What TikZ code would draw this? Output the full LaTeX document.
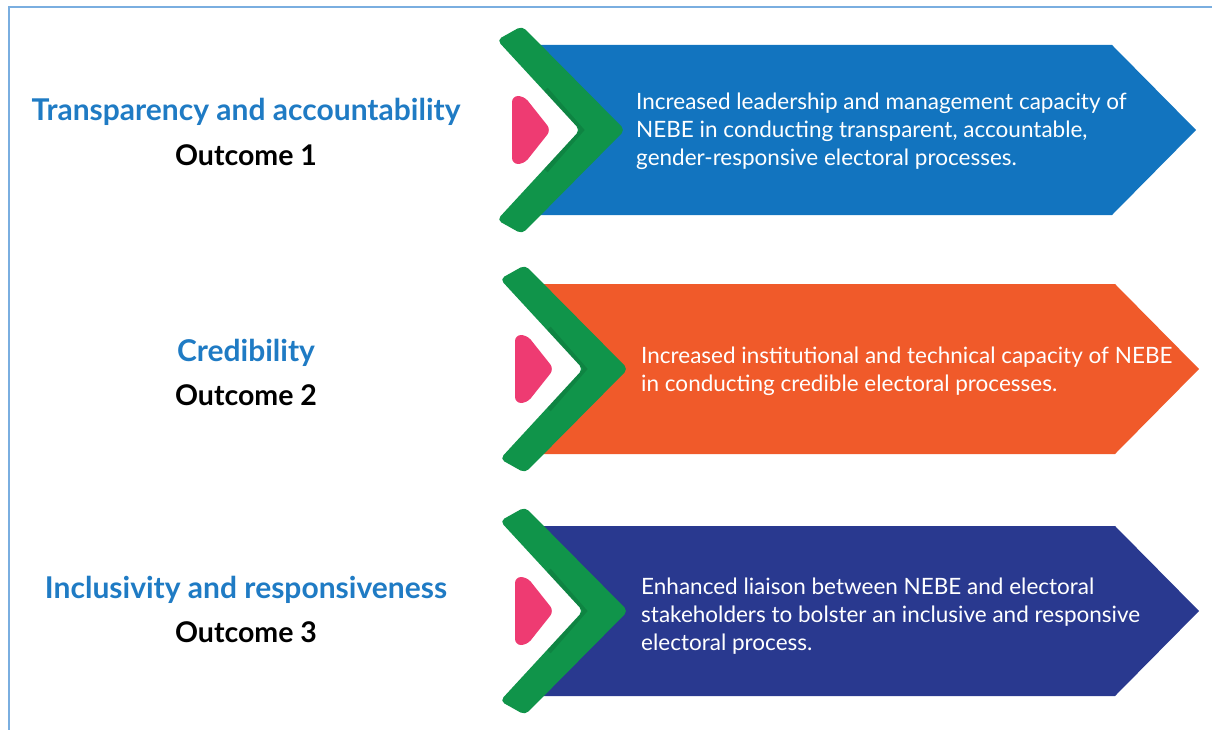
\documentclass[tikz,border=0pt]{standalone}
\usepackage{fontspec}
\setmainfont{Lato}
\definecolor{frameblue}{HTML}{7AAEE0}
\definecolor{headblue}{HTML}{1F7BC4}
\definecolor{cgreen}{HTML}{10944A}
\definecolor{cpink}{HTML}{EE3B72}
\definecolor{cblue}{HTML}{1274BF}
\definecolor{corange}{HTML}{F05A2A}
\definecolor{cnavy}{HTML}{29398F}
\tikzset{
  heading/.style={font=\fontsize{30}{34}\selectfont\bfseries, text=headblue, inner sep=0pt, anchor=center},
  outcome/.style={font=\fontsize{28.5}{32}\selectfont\bfseries, text=black, inner sep=0pt, anchor=center},
  body/.style={font=\fontsize{22.5}{28}\selectfont, text=white, inner sep=0pt, anchor=west, align=left},
  chev/.style={fill=cgreen, rounded corners=5pt},
  marker/.style={fill=cpink, rounded corners=6pt},
}
\newcommand{\outcomeblock}[4]{%
  % #1 name, #2 x shift, #3 centre y, #4 colour
  \begin{scope}[shift={(#2,#3)}]
    \fill[#4] (520,-85) -- (1112,-85) -- (1196,0) -- (1112,85) -- (520,85) -- (600,0) -- cycle;
    \path[chev] (497,-90) -- (522,-104) -- (625,0) -- (522,104) -- (497,90) -- (580,0) -- cycle;
    \begin{scope}
      \clip (497,-90) -- (522,-104) -- (625,0) -- (522,104) -- (497,90) -- (580,0) -- cycle;
      \draw[black, opacity=0.10, line width=7pt] (545,-40) -- (580,0) -- (545,40);
    \end{scope}
    \path[marker] (512,-34) -- (524,-34) -- (551,0) -- (524,34) -- (512,34) -- cycle;
    \coordinate (#1) at (636,0);
  \end{scope}}
\begin{document}
\begin{tikzpicture}[x=1pt,y=-1pt]
\useasboundingbox (0,0) rectangle (1212,730);
\draw[frameblue, line width=2pt] (9,730) -- (9,7) -- (1212,7);

\outcomeblock{b1}{0}{130}{cblue}
\outcomeblock{b2}{3}{369}{corange}
\outcomeblock{b3}{3}{611}{cnavy}

\node[body] (t1) at ([yshift=-1pt]b1) {Increased leadership and management capacity of\\NEBE in conducting transparent, accountable,\\gender-responsive electoral processes.};
\node[body] (t2) at ([xshift=2pt,yshift=-2pt]b2) {Increased institutional and technical capacity of NEBE\\in conducting credible electoral processes.};
\node[body] (t3) at ([xshift=2pt,yshift=-5pt]b3) {Enhanced liaison between NEBE and electoral\\stakeholders to bolster an inclusive and responsive\\electoral process.};

\node[heading] (h1) at (246,112) {Transparency and accountability};
\node[outcome] (o1) at (246,155) {Outcome 1};
\node[heading] (h2) at (246,353) {Credibility};
\node[outcome] (o2) at (246,395) {Outcome 2};
\node[heading] (h3) at (246,590) {Inclusivity and responsiveness};
\node[outcome] (o3) at (246,632) {Outcome 3};
\end{tikzpicture}
\end{document}
